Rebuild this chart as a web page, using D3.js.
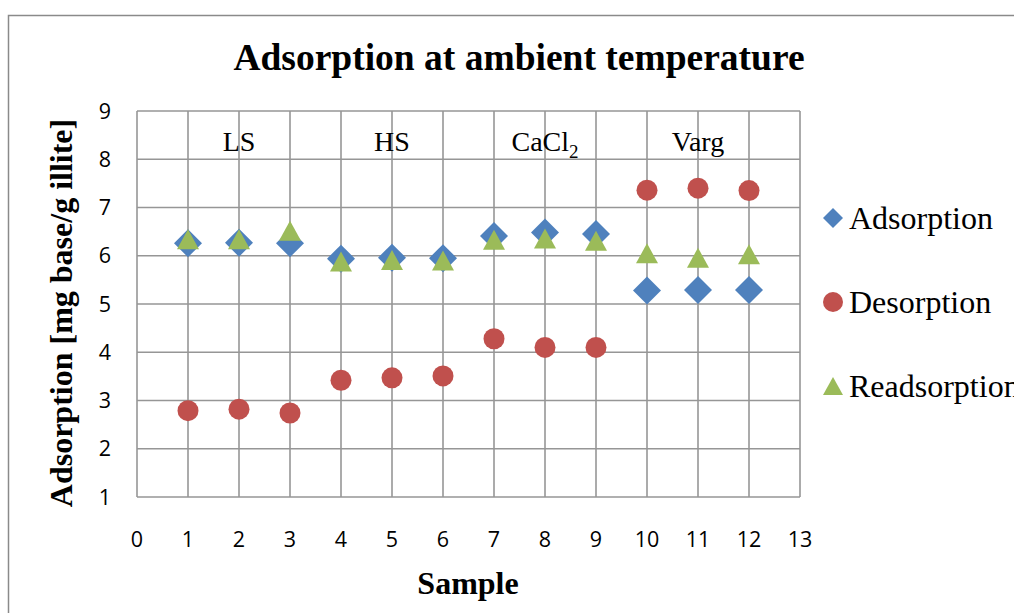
<!DOCTYPE html>
<html>
<head>
<meta charset="utf-8">
<script src="https://cdn.jsdelivr.net/npm/d3@7"></script>
<style>
  body { margin: 0; background: #fff; }
  svg { display: block; }
</style>
</head>
<body>
<div id="chart"></div>
<script>
var width = 1014;
var height = 613;

// data
var samples = [1, 2, 3, 4, 5, 6, 7, 8, 9, 10, 11, 12];
var adsorption   = [6.26, 6.27, 6.26, 5.94, 5.96, 5.95, 6.41, 6.48, 6.45, 5.28, 5.29, 5.29];
var desorption   = [2.79, 2.82, 2.74, 3.42, 3.47, 3.51, 4.28, 4.10, 4.10, 7.36, 7.40, 7.35];
var readsorption = [6.34, 6.34, 6.52, 5.88, 5.91, 5.90, 6.33, 6.36, 6.31, 6.05, 5.96, 6.03];
var xTicks = [0, 1, 2, 3, 4, 5, 6, 7, 8, 9, 10, 11, 12, 13];
var yTicks = [1, 2, 3, 4, 5, 6, 7, 8, 9];
var groups = [
  { name: "LS", x: 2 },
  { name: "HS", x: 5 },
  { name: "CaCl", sub: "2", x: 8 },
  { name: "Varg", x: 11 }
];
var seriesNames = ["Adsorption", "Desorption", "Readsorption"];
var colors = ["#4f81bd", "#c0504d", "#9bbb59"];

var serif = "'Liberation Serif', 'Times New Roman', serif";
var sans = "'Open Sans', 'Noto Sans', sans-serif";

var x = d3.scaleLinear().domain([0, 13]).range([137, 800]);
var y = d3.scaleLinear().domain([1, 9]).range([497, 111]);

var svg = d3.select("#chart")
  .append("svg")
  .attr("width", width)
  .attr("height", height);

// chart frame
svg.append("rect")
  .attr("x", 8.5).attr("y", 15.5)
  .attr("width", 1030).attr("height", 640)
  .attr("fill", "white")
  .attr("stroke", "#8a8a8a")
  .attr("stroke-width", 1.5);

// title
svg.append("text")
  .attr("x", 519).attr("y", 70)
  .attr("text-anchor", "middle")
  .attr("font-family", serif)
  .attr("font-weight", "bold")
  .attr("font-size", 37.5)
  .text("Adsorption at ambient temperature");

// gridlines
var grid = svg.append("g").attr("stroke", "#969696").attr("stroke-width", 1.6);
grid.selectAll(".vx")
  .data(xTicks)
  .join("line")
  .attr("x1", d => x(d)).attr("x2", d => x(d))
  .attr("y1", y(9)).attr("y2", y(1));
grid.selectAll(".hy")
  .data(yTicks)
  .join("line")
  .attr("x1", x(0)).attr("x2", x(13))
  .attr("y1", d => y(d)).attr("y2", d => y(d));

// tick labels
svg.append("g").selectAll("text")
  .data(yTicks)
  .join("text")
  .attr("x", 111)
  .attr("y", d => y(d))
  .attr("dy", "0.36em")
  .attr("text-anchor", "end")
  .attr("font-family", sans)
  .attr("font-size", 21.5)
  .text(d => d);

svg.append("g").selectAll("text")
  .data(xTicks)
  .join("text")
  .attr("x", d => x(d))
  .attr("y", 547)
  .attr("text-anchor", "middle")
  .attr("font-family", sans)
  .attr("font-size", 21.5)
  .text(d => d);

// axis titles
svg.append("text")
  .attr("transform", "translate(72," + 313 + ") rotate(-90)")
  .attr("text-anchor", "middle")
  .attr("font-family", serif)
  .attr("font-weight", "bold")
  .attr("font-size", 32)
  .text("Adsorption [mg base/g illite]");

svg.append("text")
  .attr("x", 468).attr("y", 594)
  .attr("text-anchor", "middle")
  .attr("font-family", serif)
  .attr("font-weight", "bold")
  .attr("font-size", 32)
  .text("Sample");

// group labels inside the top band
var gl = svg.append("g").selectAll("text")
  .data(groups)
  .join("text")
  .attr("x", d => x(d.x))
  .attr("y", y(8.5) + 16)
  .attr("text-anchor", "middle")
  .attr("font-family", serif)
  .attr("font-size", 28);
gl.append("tspan").text(d => d.name);
gl.filter(d => d.sub)
  .append("tspan")
  .attr("dy", 7)
  .attr("font-size", 19)
  .text(d => d.sub);

// marker shapes
function diamond(r) {
  return "M0," + (-r) + "L" + r + ",0L0," + r + "L" + (-r) + ",0Z";
}
function triangle(w, h) {
  return "M0," + (-h / 2) + "L" + (w / 2) + "," + (h / 2) + "L" + (-w / 2) + "," + (h / 2) + "Z";
}

// points (adsorption first, triangles drawn on top)
svg.append("g").selectAll("path")
  .data(samples)
  .join("path")
  .attr("transform", (d, i) => "translate(" + x(d) + "," + y(adsorption[i]) + ")")
  .attr("d", diamond(14))
  .attr("fill", colors[0]);

svg.append("g").selectAll("circle")
  .data(samples)
  .join("circle")
  .attr("cx", d => x(d))
  .attr("cy", (d, i) => y(desorption[i]))
  .attr("r", 10.5)
  .attr("fill", colors[1]);

svg.append("g").selectAll("path")
  .data(samples)
  .join("path")
  .attr("transform", (d, i) => "translate(" + x(d) + "," + y(readsorption[i]) + ")")
  .attr("d", triangle(22, 20))
  .attr("fill", colors[2]);

// legend
var legend = svg.append("g").selectAll("g")
  .data(seriesNames)
  .join("g")
  .attr("transform", (d, i) => "translate(833," + (218 + i * 84) + ")");

legend.each(function(d, i) {
  var g = d3.select(this);
  if (i === 0) g.append("path").attr("d", diamond(10)).attr("fill", colors[0]);
  if (i === 1) g.append("circle").attr("r", 10).attr("fill", colors[1]);
  if (i === 2) g.append("path").attr("d", triangle(20, 18)).attr("fill", colors[2]);
});

legend.append("text")
  .attr("x", 16)
  .attr("y", 11)
  .attr("font-family", serif)
  .attr("font-size", 32)
  .text(d => d);
</script>
</body>
</html>
